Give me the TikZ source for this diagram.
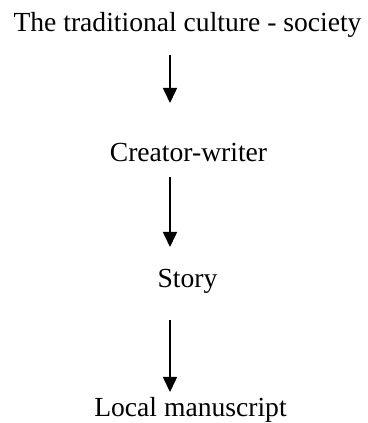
\documentclass[tikz,border=0pt]{standalone}
\usepackage{fontspec}
\setmainfont{Liberation Serif}
\usetikzlibrary{arrows.meta}
\begin{document}
\begin{tikzpicture}[x=1pt,y=1pt,
  lbl/.style={anchor=base,inner sep=0pt,font=\fontsize{27.6}{32}\selectfont},
  flow/.style={line width=1.6pt,-{Triangle[width=14pt,length=15pt]}}]
\useasboundingbox (0,0) rectangle (367,423);
\node[lbl] (t1) at (187.5,391) {The traditional culture - society};
\node[lbl] (t2) at (188.5,261) {Creator-writer};
\node[lbl] (t3) at (187.5,135) {Story};
\node[lbl] (t4) at (190.5,6) {Local manuscript};
\coordinate (a1s) at (170,368);
\coordinate (a1e) at (170,320);
\coordinate (a2s) at (170,246);
\coordinate (a2e) at (170,176);
\coordinate (a3s) at (170,103);
\coordinate (a3e) at (170,31);
\draw[flow] (a1s) -- (a1e);
\draw[flow] (a2s) -- (a2e);
\draw[flow] (a3s) -- (a3e);
\end{tikzpicture}
\end{document}
